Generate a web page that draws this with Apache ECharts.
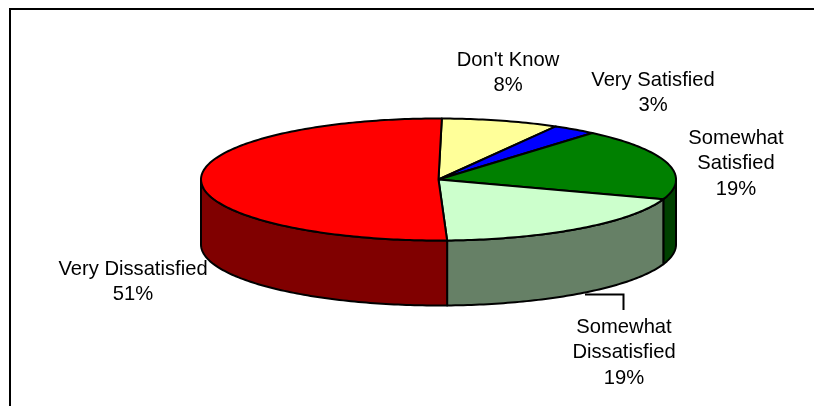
<!DOCTYPE html>
<html>
<head>
<meta charset="utf-8">
<style>html,body{margin:0;padding:0;background:#fff}#c{width:814px;height:406px}</style>
<script src="https://cdn.jsdelivr.net/npm/echarts@6/dist/echarts.min.js"></script>
</head>
<body>
<div id="c"></div>
<script>
// Data, clockwise from the top of the pie
const categories = ["Don't Know", "Very Satisfied", "Somewhat Satisfied", "Somewhat Dissatisfied", "Very Dissatisfied"];
const values = [8, 3, 19, 19.2, 50.8];
const labelLines = [["Don't Know"], ["Very Satisfied"], ["Somewhat", "Satisfied"], ["Somewhat", "Dissatisfied"], ["Very Dissatisfied"]];

// Styles and layout
const topColors = ['#FFFF99', '#0000FF', '#008000', '#CCFFCC', '#FF0000'];
const sideColors = ['#808050', '#000080', '#004000', '#668066', '#800000'];
const labelCenters = [[508, 60], [653, 80], [736, 138], [624, 327], [133, 269]];
const GEO = { cx: 438.5, cy: 179.5, rx: 237.5, ry: 61, depth: 65, start: 0.8 };
const FONT = 'Liberation Sans, Arial, sans-serif', FONT_SIZE = 20.2, LINE_H = 25.5;

const total = values.reduce((a, b) => a + b, 0);
const pt = (deg, dy) => {
  const r = deg * Math.PI / 180;
  return [GEO.cx + GEO.rx * Math.sin(r), GEO.cy - GEO.ry * Math.cos(r) + (dy || 0)];
};
const arc = (a, b, dy) => {
  const out = [], n = Math.max(2, Math.ceil(Math.abs(b - a)));
  for (let i = 0; i <= n; i++) out.push(pt(a + (b - a) * i / n, dy));
  return out;
};
const spans = [];
values.reduce((acc, v) => { const e = acc + v / total * 360; spans.push([acc, e]); return e; }, GEO.start);

function renderSlice(params, api) {
  const i = params.dataIndex, a = spans[i][0], b = spans[i][1];
  const children = [];
  const line = { stroke: '#000', lineWidth: 2, lineJoin: 'round' };
  // outer wall: only the front half of the rim (90 to 270 degrees) is visible
  const sa = Math.max(a, 90), sb = Math.min(b, 270);
  if (sb > sa) {
    const upper = arc(sa, sb, 0), lower = arc(sb, sa, GEO.depth);
    children.push({ type: 'polygon', z2: 1, shape: { points: upper.concat(lower) },
      style: Object.assign({ fill: sideColors[i] }, line) });
  }
  // top face
  children.push({ type: 'polygon', z2: 2, shape: { points: [[GEO.cx, GEO.cy]].concat(arc(a, b, 0)) },
    style: Object.assign({ fill: topColors[i] }, line) });
  // label text
  const lines = labelLines[i].concat([Math.round(api.value(0) / total * 100) + '%']);
  lines.forEach((t, k) => children.push({
    type: 'text', z2: 5,
    style: { text: t, x: labelCenters[i][0], y: labelCenters[i][1] + k * LINE_H,
      align: 'center', verticalAlign: 'middle', fill: '#000', font: FONT_SIZE + 'px ' + FONT }
  }));
  return { type: 'group', children };
}

const chart = echarts.init(document.getElementById('c'), null, { renderer: 'canvas' });
chart.setOption({
  animation: false,
  backgroundColor: '#fff',
  series: [{
    type: 'custom',
    coordinateSystem: 'none',
    renderItem: renderSlice,
    encode: { value: 0, itemName: 1 },
    data: values.map((v, i) => ({ name: categories[i], value: [v] })),
    silent: true
  }],
  graphic: [
    { type: 'polyline', z: 0, shape: { points: [[10, 406], [10, 9], [814, 9]] },
      style: { stroke: '#000', lineWidth: 2, fill: null } },
    { type: 'polyline', z: 0, shape: { points: [[585, 294.5], [623.5, 294.5], [623.5, 310]] },
      style: { stroke: '#000', lineWidth: 2, fill: null } }
  ]
});
</script>
</body>
</html>
